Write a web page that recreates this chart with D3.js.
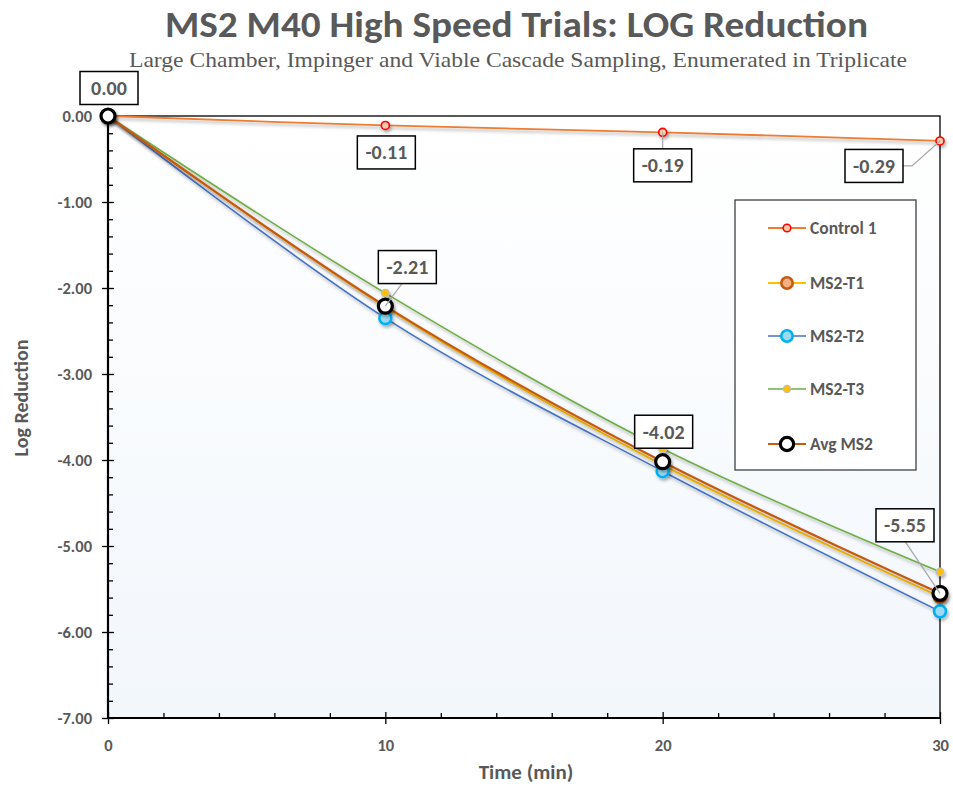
<!DOCTYPE html>
<html><head><meta charset="utf-8">
<script src="https://cdn.jsdelivr.net/npm/d3@7"></script>
<style>body{margin:0;background:#fff}svg{display:block}</style>
</head><body>
<svg id="chart" width="953" height="787"></svg>
<script>
// ---- data ----
const times = [0, 10, 20, 30];
const control1 = [0, -0.11, -0.19, -0.29];
const ms2T1 = [0, -2.22, -4.06, -5.59];
const ms2T2 = [0, -2.35, -4.13, -5.76];
const ms2T3 = [0, -2.06, -3.87, -5.30];
const avgMS2 = [0, -2.21, -4.02, -5.55];
const seriesNames = ["Control 1", "MS2-T1", "MS2-T2", "MS2-T3", "Avg MS2"];
const yTickValues = [0, -1, -2, -3, -4, -5, -6, -7];
const xTickValues = [0, 10, 20, 30];
const titleText = "MS2 M40 High Speed Trials: LOG Reduction";
const subtitleText = "Large Chamber, Impinger and Viable Cascade Sampling, Enumerated in Triplicate";

const FONT = "Carlito, 'Liberation Sans Narrow', 'Liberation Sans', sans-serif";
const GREY = "#595959";

const svg = d3.select("#chart");
const L = 108, R = 940, T = 116, B = 718;
const x = d3.scaleLinear().domain([0, 30]).range([L, R]);
const y = d3.scaleLinear().domain([-7, 0]).range([B, T]);

const loc = d3.formatLocale({ decimal: ".", thousands: ",", grouping: [3], currency: ["", ""], minus: "-" });
const fmt = loc.format(".2f");

const defs = svg.append("defs");
const grad = defs.append("linearGradient").attr("id", "bg").attr("x1", 0).attr("y1", 0).attr("x2", 0).attr("y2", 1);
grad.append("stop").attr("offset", "0%").attr("stop-color", "#ffffff");
grad.append("stop").attr("offset", "100%").attr("stop-color", "#f2f7fc");
const f = defs.append("filter").attr("id", "shadow").attr("x", "-20%").attr("y", "-20%").attr("width", "140%").attr("height", "140%");
f.append("feDropShadow").attr("dx", 1.5).attr("dy", 2.5).attr("stdDeviation", 1.6)
  .attr("flood-color", "#000").attr("flood-opacity", 0.3);

// plot background + border
svg.append("rect").attr("x", L).attr("y", T).attr("width", R - L).attr("height", B - T)
  .attr("fill", "url(#bg)").attr("stroke", "#000").attr("stroke-width", 1.3);

// title
svg.append("text").attr("x", 516.5).attr("y", 37).attr("text-anchor", "middle")
  .attr("font-family", FONT).attr("font-weight", "bold").attr("font-size", 36).attr("fill", GREY)
  .attr("textLength", 703).attr("lengthAdjust", "spacingAndGlyphs").text(titleText);
svg.append("text").attr("x", 518).attr("y", 67).attr("text-anchor", "middle")
  .attr("font-family", "'Liberation Serif', 'DejaVu Serif', serif").attr("font-size", 21).attr("fill", GREY)
  .attr("textLength", 778).attr("lengthAdjust", "spacingAndGlyphs").text(subtitleText);

// axes
const yMinor = d3.range(0, 35).map(i => -i * 0.2).filter(v => Math.abs(v - Math.round(v)) > 1e-6);
const xMinor = d3.range(0, 31, 2).filter(v => v % 10 !== 0);

const gy = svg.append("g").attr("transform", `translate(${L},0)`)
  .call(d3.axisLeft(y).tickValues(yTickValues).tickFormat(v => fmt(v)).tickSize(6).tickPadding(10));
gy.select(".domain").remove();
gy.selectAll(".tick line").attr("x1", 6).attr("stroke", "#000").attr("stroke-width", 1.3);
gy.selectAll(".tick text").attr("font-family", FONT).attr("font-weight", "bold").attr("font-size", 16.5).attr("fill", GREY);
const gyMinor = svg.append("g").attr("transform", `translate(${L},0)`)
  .call(d3.axisRight(y).tickValues(yMinor).tickFormat("").tickSize(5));
gyMinor.select(".domain").remove();
gyMinor.selectAll(".tick line").attr("stroke", "#000").attr("stroke-width", 1.3);

const gx = svg.append("g").attr("transform", `translate(0,${B})`)
  .call(d3.axisBottom(x).tickValues(xTickValues).tickFormat(d3.format("d")).tickSize(6).tickPadding(15));
gx.select(".domain").remove();
gx.selectAll(".tick line").attr("y1", -6).attr("stroke", "#000").attr("stroke-width", 1.3);
gx.selectAll(".tick text").attr("font-family", FONT).attr("font-weight", "bold").attr("font-size", 16.5).attr("fill", GREY);
const gxMinor = svg.append("g").attr("transform", `translate(0,${B})`)
  .call(d3.axisTop(x).tickValues(xMinor).tickFormat("").tickSize(5));
gxMinor.select(".domain").remove();
gxMinor.selectAll(".tick line").attr("stroke", "#000").attr("stroke-width", 1.3);

svg.append("line").attr("x1", L).attr("x2", L).attr("y1", T).attr("y2", B + 1).attr("stroke", "#000").attr("stroke-width", 2.2);
svg.append("line").attr("x1", L - 1).attr("x2", R).attr("y1", B).attr("y2", B).attr("stroke", "#000").attr("stroke-width", 2.2);

// axis titles
svg.append("text").attr("x", 526).attr("y", 779).attr("text-anchor", "middle")
  .attr("font-family", FONT).attr("font-weight", "bold").attr("font-size", 21).attr("fill", GREY).text("Time (min)");
svg.append("text").attr("transform", "translate(28,398) rotate(-90)").attr("text-anchor", "middle")
  .attr("font-family", FONT).attr("font-weight", "bold").attr("font-size", 20).attr("fill", GREY).text("Log Reduction");

// series
const series = [
  { name: seriesNames[0], vals: control1, line: "#ED7D31", lw: 1.8, r: 4, fill: "#F8CBAD", stroke: "#FF0000", sw: 1.6 },
  { name: seriesNames[1], vals: ms2T1, line: "#FFC000", lw: 1.8, r: 6, fill: "#F4B183", stroke: "#C55A11", sw: 2.6 },
  { name: seriesNames[2], vals: ms2T2, line: "#4472C4", lw: 1.6, r: 6, fill: "#9DD9F5", stroke: "#00B0F0", sw: 2.6 },
  { name: seriesNames[3], vals: ms2T3, line: "#70AD47", lw: 1.6, r: 3.8, fill: "#FFC000", stroke: "#BFBFBF", sw: 1.2 },
  { name: seriesNames[4], vals: avgMS2, line: "#C55A11", lw: 2.2, r: 7, fill: "#FFFFFF", stroke: "#000000", sw: 3.2 }
];
const lineGen = d3.line().x(d => x(d[0])).y(d => y(d[1])).curve(d3.curveCatmullRom.alpha(0));

series.forEach(s => {
  const pts = times.map((t, i) => [t, s.vals[i]]);
  const g = svg.append("g").attr("filter", "url(#shadow)");
  g.append("path").datum(pts).attr("d", lineGen).attr("fill", "none")
    .attr("stroke", s.line).attr("stroke-width", s.lw);
});
series.forEach(s => {
  const pts = times.map((t, i) => [t, s.vals[i]]);
  svg.append("g").attr("filter", "url(#shadow)").selectAll("circle").data(pts).join("circle")
    .attr("cx", d => x(d[0])).attr("cy", d => y(d[1])).attr("r", s.r)
    .attr("fill", s.fill).attr("stroke", s.stroke).attr("stroke-width", s.sw);
});

// data labels
function label(text, cx, cy, leader) {
  const w = 58, h = 33;
  if (leader) {
    svg.append("polyline").attr("points", leader.map(p => p.join(",")).join(" "))
      .attr("fill", "none").attr("stroke", "#A6A6A6").attr("stroke-width", 1.2);
  }
  svg.append("rect").attr("x", cx - w / 2).attr("y", cy - h / 2).attr("width", w).attr("height", h)
    .attr("fill", "#fff").attr("stroke", "#000").attr("stroke-width", 1.5);
  svg.append("text").attr("x", cx).attr("y", cy + 7).attr("text-anchor", "middle")
    .attr("font-family", FONT).attr("font-weight", "bold").attr("font-size", 20).attr("fill", GREY).text(text);
}
// Control labels
const cX = times.map(t => x(t)), cY = control1.map(v => y(v));
label(fmt(control1[1]), cX[1] + 1, cY[1] + 27, null);
label(fmt(control1[2]), cX[2], cY[2] + 33, [[cX[2], cY[2]], [cX[2], cY[2] + 17]]);
label(fmt(control1[3]), cX[3] - 66, cY[3] + 25,
  [[cX[3] - 37, cY[3] + 25], [cX[3] - 28, cY[3] + 25], [cX[3], cY[3]]]);
// Avg labels
const aX = times.map(t => x(t)), aY = avgMS2.map(v => y(v));
label(fmt(Math.abs(avgMS2[0])), aX[0] + 1, aY[0] - 28, null);
label(fmt(avgMS2[1]), aX[1] + 22, aY[1] - 39, [[aX[1], aY[1]], [aX[1] + 17, aY[1] - 23]]);
label(fmt(avgMS2[2]), aX[2] + 1, aY[2] - 30, null);
label(fmt(avgMS2[3]), aX[3] - 35, aY[3] - 68, [[aX[3] - 35, aY[3] - 52], [aX[3], aY[3]]]);

// legend
svg.append("rect").attr("x", 735).attr("y", 200).attr("width", 181).attr("height", 270)
  .attr("fill", "#fff").attr("stroke", "#404040").attr("stroke-width", 1.3);
const legY = [228, 283, 336, 389, 444];
series.forEach((s, i) => {
  const g = svg.append("g").attr("transform", `translate(0,${legY[i]})`);
  g.append("line").attr("x1", 768).attr("x2", 806).attr("y1", 0).attr("y2", 0)
    .attr("stroke", s.line).attr("stroke-width", s.lw);
  g.append("circle").attr("cx", 787).attr("cy", 0).attr("r", s.r * 0.95)
    .attr("fill", s.fill).attr("stroke", s.stroke).attr("stroke-width", s.sw);
  g.append("text").attr("x", 810).attr("y", 6).attr("font-family", FONT).attr("font-weight", "bold")
    .attr("font-size", 17.5).attr("fill", GREY).text(s.name);
});
</script>
</body></html>
